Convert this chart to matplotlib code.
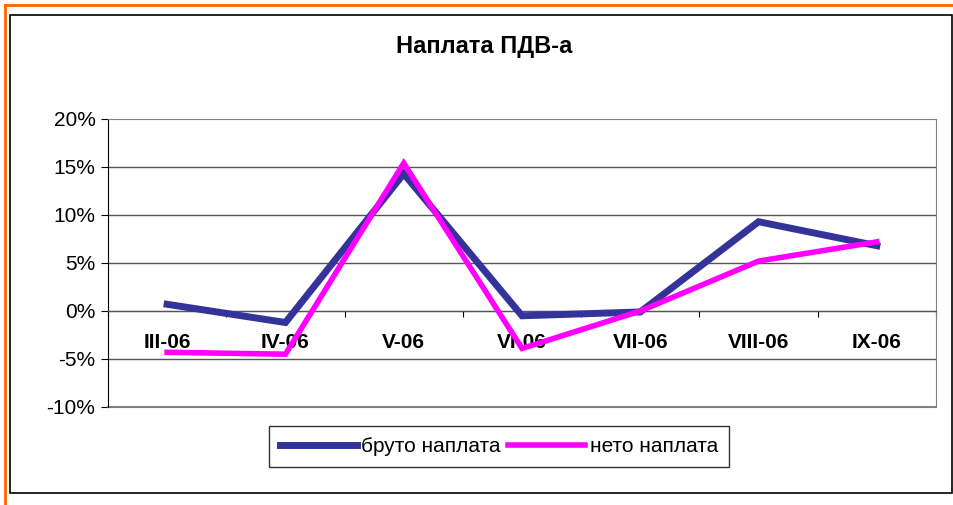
import numpy as np
import matplotlib.pyplot as plt
from matplotlib.ticker import FixedLocator, FuncFormatter
from matplotlib.lines import Line2D
from matplotlib.patches import Rectangle

months = ['III-06', 'IV-06', 'V-06', 'VI-06', 'VII-06', 'VIII-06', 'IX-06']
# values in percent
bruto = [0.7, -1.2, 14.3, -0.5, -0.1, 9.3, 6.8]
neto = [-4.3, -4.5, 15.4, -3.9, 0.0, 5.2, 7.2]
yticks = [-10, -5, 0, 5, 10, 15, 20]

plt.rcParams['font.family'] = ['Liberation Sans', 'DejaVu Sans']

fig = plt.figure(figsize=(9.54, 5.05), dpi=100)

# outer orange / black frames
fig.add_artist(Line2D([5/954, 1], [1-5/505, 1-5/505], color='#ff6600', lw=2))
fig.add_artist(Line2D([5/954, 5/954], [0, 1-5/505], color='#ff6600', lw=2))
fig.add_artist(Rectangle((10/954, 12/505), 942/954, 478/505, fill=False,
                         ec='black', lw=1.2, transform=fig.transFigure))

ax = fig.add_axes([108/954, 1-407/505, 828/954, 288/505])

x = np.arange(len(months))
ax.plot(x, bruto, color='#333399', lw=5, solid_joinstyle='miter', label='бруто наплата', zorder=3)
ax.plot(x, neto, color='#ff00ff', lw=4, solid_joinstyle='miter', label='нето наплата', zorder=4)

ax.set_xlim(-0.5, len(months) - 0.5)
ax.set_ylim(-10, 20)
ax.set_yticks(yticks)
ax.yaxis.set_major_formatter(FuncFormatter(lambda v, p: '%d%%' % v))
ax.tick_params(axis='y', direction='out', length=5, color='black', labelsize=15, pad=4)
for yv in yticks[1:-1]:
    ax.axhline(yv, color='#555555', lw=1, zorder=1)

# category axis on the zero line
ax.spines['bottom'].set_position(('data', 0))
ax.spines['bottom'].set_color('#555555')
ax.xaxis.set_major_locator(FixedLocator(np.arange(-0.5, len(months), 1.0)))
ax.xaxis.set_major_formatter(FuncFormatter(lambda v, p: ''))
ax.xaxis.set_minor_locator(FixedLocator(x))
ax.set_xticklabels(months, minor=True)
ax.tick_params(axis='x', which='major', direction='out', length=4, color='black')
ax.tick_params(axis='x', which='minor', length=0, pad=16, labelsize=15)
for lab in ax.get_xticklabels(minor=True):
    lab.set_fontweight('bold')

for s in ['top', 'right']:
    ax.spines[s].set_color('#808080')
ax.spines['left'].set_color('black')
ax.plot([-0.5, len(months) - 0.5], [-10, -10], color='#808080', lw=1.5, clip_on=False, zorder=2)

fig.text(484/954, 1-47/505, 'Наплата ПДВ-а', ha='center', va='center',
         fontsize=17, fontweight='bold')

leg = fig.legend(loc='center', bbox_to_anchor=(499/954, 1-446.5/505), ncol=2,
                 fontsize=15, frameon=True, fancybox=False, handlelength=3.7,
                 handletextpad=0.2, columnspacing=0.35, borderpad=0.55)
leg.get_frame().set_edgecolor('black')
leg.get_frame().set_linewidth(1)

fig.savefig('out.png', dpi=100)
